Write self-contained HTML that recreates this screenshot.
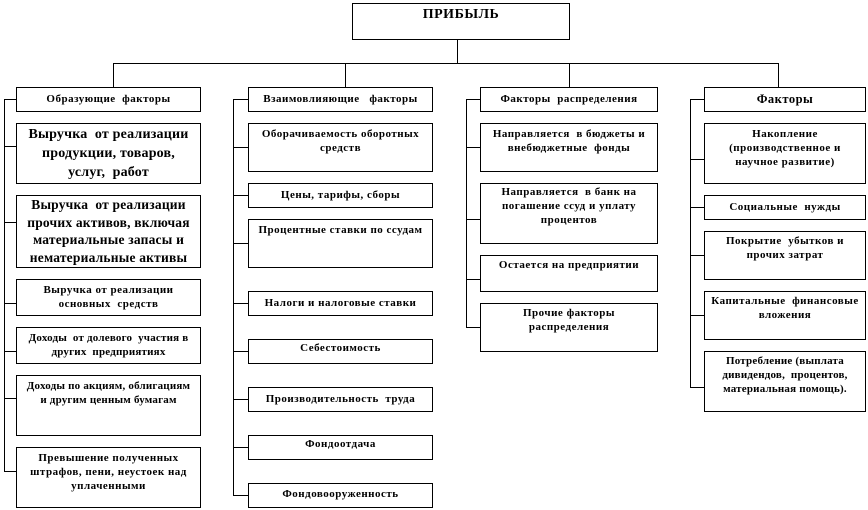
<!DOCTYPE html>
<html><head><meta charset="utf-8"><style>
body{margin:0;width:868px;height:510px;background:#fff;position:relative;overflow:hidden;font-family:"Liberation Serif","DejaVu Serif",serif;font-weight:bold;color:#000}
.b{position:absolute;border:1px solid #000;box-sizing:border-box;text-align:center;font-size:11px;letter-spacing:0.5px;line-height:14px;padding-top:3px;background:#fff;white-space:nowrap;overflow:hidden}
.h{position:absolute;height:1px;background:#000}
.v{position:absolute;width:1px;background:#000}
.big{font-size:14px;letter-spacing:0.2px;line-height:19px;padding-top:1px}
</style></head><body>
<div class="b" style="left:352px;top:3px;width:218px;height:37px;font-size:14px;padding-top:4px">ПРИБЫЛЬ</div>
<div class="v" style="left:457px;top:39px;height:24px"></div>
<div class="h" style="left:113px;top:63px;width:666px"></div>
<div class="v" style="left:113px;top:63px;height:24px"></div>
<div class="v" style="left:345px;top:63px;height:24px"></div>
<div class="v" style="left:569px;top:63px;height:24px"></div>
<div class="v" style="left:778px;top:63px;height:24px"></div>

<!-- col1 -->
<div class="v" style="left:4px;top:99px;height:373px"></div>
<div class="h" style="left:4px;top:99px;width:12px"></div>
<div class="h" style="left:4px;top:146px;width:12px"></div>
<div class="h" style="left:4px;top:222px;width:12px"></div>
<div class="h" style="left:4px;top:303px;width:12px"></div>
<div class="h" style="left:4px;top:351px;width:12px"></div>
<div class="h" style="left:4px;top:398px;width:12px"></div>
<div class="h" style="left:4px;top:471px;width:12px"></div>
<div class="b" style="left:16px;top:87px;width:185px;height:25px;padding-top:4px">Образующие&nbsp; факторы</div>
<div class="b big" style="left:16px;top:123px;width:185px;height:61px">Выручка&nbsp; от реализации<br>продукции, товаров,<br>услуг,&nbsp; работ</div>
<div class="b big" style="left:16px;top:195px;width:185px;height:73px;font-size:13.5px;line-height:17.5px;padding-top:0">Выручка&nbsp; от реализации<br>прочих активов, включая<br>материальные запасы и<br>нематериальные активы</div>
<div class="b" style="left:16px;top:279px;width:185px;height:37px">Выручка от реализации<br>основных&nbsp; средств</div>
<div class="b" style="left:16px;top:327px;width:185px;height:37px;letter-spacing:0.2px">Доходы&nbsp; от долевого&nbsp; участия в<br>других&nbsp; предприятиях</div>
<div class="b" style="left:16px;top:375px;width:185px;height:61px;letter-spacing:0.2px">Доходы по акциям, облигациям<br>и другим ценным бумагам</div>
<div class="b" style="left:16px;top:447px;width:185px;height:61px">Превышение полученных<br>штрафов, пени, неустоек над<br>уплаченными</div>

<!-- col2 -->
<div class="v" style="left:233px;top:99px;height:397px"></div>
<div class="h" style="left:233px;top:99px;width:15px"></div>
<div class="h" style="left:233px;top:147px;width:15px"></div>
<div class="h" style="left:233px;top:195px;width:15px"></div>
<div class="h" style="left:233px;top:243px;width:15px"></div>
<div class="h" style="left:233px;top:303px;width:15px"></div>
<div class="h" style="left:233px;top:351px;width:15px"></div>
<div class="h" style="left:233px;top:399px;width:15px"></div>
<div class="h" style="left:233px;top:447px;width:15px"></div>
<div class="h" style="left:233px;top:495px;width:15px"></div>
<div class="b" style="left:248px;top:87px;width:185px;height:25px;padding-top:4px">Взаимовлияющие&nbsp;&nbsp; факторы</div>
<div class="b" style="left:248px;top:123px;width:185px;height:49px">Оборачиваемость оборотных<br>средств</div>
<div class="b" style="left:248px;top:183px;width:185px;height:25px;padding-top:4px">Цены, тарифы, сборы</div>
<div class="b" style="left:248px;top:219px;width:185px;height:49px">Процентные ставки по ссудам</div>
<div class="b" style="left:248px;top:291px;width:185px;height:25px;padding-top:4px">Налоги и налоговые ставки</div>
<div class="b" style="left:248px;top:339px;width:185px;height:25px;padding-top:1px">Себестоимость</div>
<div class="b" style="left:248px;top:387px;width:185px;height:25px;padding-top:4px">Производительность&nbsp; труда</div>
<div class="b" style="left:248px;top:435px;width:185px;height:25px;padding-top:1px">Фондоотдача</div>
<div class="b" style="left:248px;top:483px;width:185px;height:25px;padding-top:3px">Фондовооруженность</div>

<!-- col3 -->
<div class="v" style="left:466px;top:99px;height:229px"></div>
<div class="h" style="left:466px;top:99px;width:14px"></div>
<div class="h" style="left:466px;top:147px;width:14px"></div>
<div class="h" style="left:466px;top:219px;width:14px"></div>
<div class="h" style="left:466px;top:279px;width:14px"></div>
<div class="h" style="left:466px;top:327px;width:14px"></div>
<div class="b" style="left:480px;top:87px;width:178px;height:25px;padding-top:4px">Факторы&nbsp; распределения</div>
<div class="b" style="left:480px;top:123px;width:178px;height:49px">Направляется&nbsp; в бюджеты и<br>внебюджетные&nbsp; фонды</div>
<div class="b" style="left:480px;top:183px;width:178px;height:61px;padding-top:1px">Направляется&nbsp; в банк на<br>погашение ссуд и уплату<br>процентов</div>
<div class="b" style="left:480px;top:255px;width:178px;height:37px;padding-top:2px">Остается на предприятии</div>
<div class="b" style="left:480px;top:303px;width:178px;height:49px;padding-top:2px">Прочие факторы<br>распределения</div>

<!-- col4 -->
<div class="v" style="left:690px;top:99px;height:289px"></div>
<div class="h" style="left:690px;top:99px;width:14px"></div>
<div class="h" style="left:690px;top:159px;width:14px"></div>
<div class="h" style="left:690px;top:207px;width:14px"></div>
<div class="h" style="left:690px;top:255px;width:14px"></div>
<div class="h" style="left:690px;top:315px;width:14px"></div>
<div class="h" style="left:690px;top:387px;width:14px"></div>
<div class="b" style="left:704px;top:87px;width:162px;height:25px;font-size:12.5px;padding-top:4px">Факторы</div>
<div class="b" style="left:704px;top:123px;width:162px;height:61px">Накопление<br>(производственное и<br>научное развитие)</div>
<div class="b" style="left:704px;top:195px;width:162px;height:25px;padding-top:4px">Социальные&nbsp; нужды</div>
<div class="b" style="left:704px;top:231px;width:162px;height:49px;padding-top:2px">Покрытие&nbsp; убытков и<br>прочих затрат</div>
<div class="b" style="left:704px;top:291px;width:162px;height:49px;padding-top:2px">Капитальные&nbsp; финансовые<br>вложения</div>
<div class="b" style="left:704px;top:351px;width:162px;height:61px;padding-top:2px;letter-spacing:0.2px">Потребление (выплата<br>дивидендов,&nbsp; процентов,<br>материальная помощь).</div>
</body></html>
